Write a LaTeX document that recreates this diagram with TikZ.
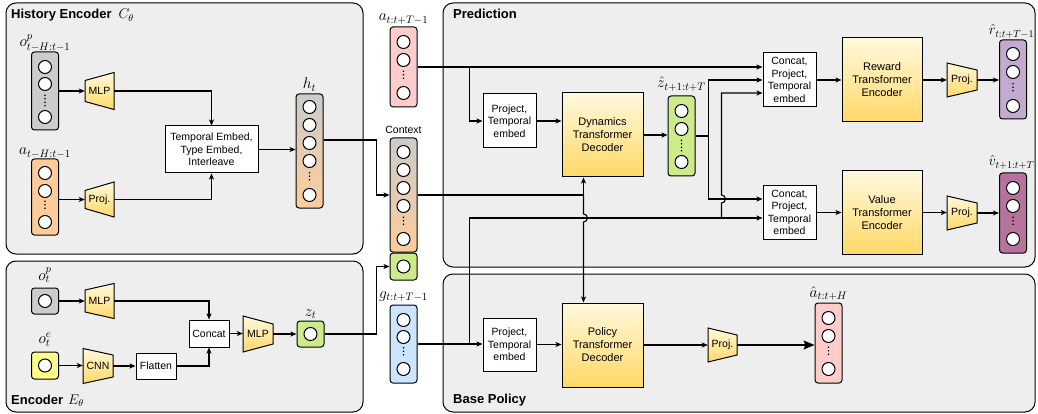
\RequirePackage{fix-cm}
\documentclass[tikz,border=0pt]{standalone}
\usepackage{fontspec}
\setsansfont{Liberation Sans}
\usetikzlibrary{arrows.meta,calc}

\definecolor{panelgray}{HTML}{EEEEEE}
\definecolor{colgray}{HTML}{CCCCCC}
\definecolor{colorange}{HTML}{FFCC99}
\definecolor{colpink}{HTML}{FFCCCC}
\definecolor{colblue}{HTML}{CCE5FF}
\definecolor{colgreen}{HTML}{CDEB8B}
\definecolor{colpurple}{HTML}{C3ABD0}
\definecolor{colmagenta}{HTML}{B5739D}
\definecolor{colyellow}{HTML}{FFFF88}
\definecolor{ylight}{HTML}{FFF8DD}
\definecolor{ydark}{HTML}{FFD966}

\newcommand{\bxfont}{\sffamily\fontsize{10.5}{12.5}\selectfont}
\newcommand{\tfmfont}{\sffamily\fontsize{11}{13}\selectfont}
\newcommand{\ttlfont}{\sffamily\bfseries\fontsize{13}{15}\selectfont}
\newcommand{\mlabfont}{\fontsize{15.5}{17}\selectfont}

\tikzset{
  panel/.style={draw=black, line width=1pt, fill=panelgray, rounded corners=10pt},
  colbox/.style={draw=black, line width=1pt, rounded corners=3pt, minimum width=27pt, inner sep=0pt},
  cell/.style={circle, draw=black, fill=white, line width=1pt, minimum size=13pt, inner sep=0pt},
  plainbox/.style={draw=black, fill=white, line width=1pt, font=\bxfont, align=center, inner sep=0pt},
  tfbox/.style={draw=black, line width=1pt, top color=ylight, bottom color=ydark, font=\tfmfont, align=center, inner sep=0pt},
  trapshape/.style={draw=black, line width=1pt, top color=ylight, bottom color=ydark},
  wire/.style={line width=1.1pt},
  arr/.style={wire, -{Stealth[length=6pt,width=5pt,inset=1.5pt]}},
  bigarr/.style={wire, -{Stealth[length=11pt,width=9pt,inset=2pt]}},
  dotline/.style={line width=1.7pt, line cap=round, dash pattern=on 0pt off 3.5pt},
  lab/.style={font=\mlabfont, anchor=base, inner sep=0pt},
  ttl/.style={font=\ttlfont, anchor=base west, inner sep=0pt},
}

% column of neurons: name, x centre, top, bottom, fill options
\newcommand{\vcolumn}[5]{\node[colbox,#5,minimum height={#4-#3}] (#1) at (#2,{(#3+#4)/2}) {};}
% neuron circles inside a column: column name, x centre, list of y positions
\newcommand{\cells}[3]{\foreach \yy [count=\k] in {#3} {\node[cell] (#1-c\k) at (#2,\yy) {};}}
% vertical ellipsis
\newcommand{\vdotsat}[2]{\draw[dotline] (#1,#2-5.25) -- (#1,#2+5.25);}
% trapezoid block: name, cx, cy, half width, half height left, half height right, text
\newcommand{\trapnode}[7]{%
  \path[trapshape] (#2-#4,#3-#5) -- (#2+#4,#3-#6) -- (#2+#4,#3+#6) -- (#2-#4,#3+#5) -- cycle;
  \node[font=\bxfont, inner sep=0pt, minimum width={2*#4}, minimum height=10pt] (#1) at (#2,#3) {#7};}

\begin{document}
\begin{tikzpicture}[x=1pt,y=-1pt]
\useasboundingbox (0,0) rectangle (1038,414);

% ---------- panels ----------
\draw[panel] (6,3) rectangle (363,254);
\draw[panel] (6,261) rectangle (363,412);
\draw[panel] (443,3) rectangle (1035,267);
\draw[panel] (443,274) rectangle (1035,412);

\node[ttl] (t-hist) at (11,19) {History Encoder\hspace{7pt}{\fontsize{14}{16}\selectfont$C_\theta$}};
\node[ttl] (t-enc) at (11,404) {Encoder\hspace{5pt}{\fontsize{14}{16}\selectfont$E_\theta$}};
\node[ttl] (t-pred) at (453,19) {Prediction};
\node[ttl] (t-pol) at (453,403) {Base Policy};

% ---------- history encoder ----------
\vcolumn{opH}{45}{52}{130}{fill=colgray}
\cells{opH}{45}{67,84,117}
\vdotsat{45}{100.5}
\node[lab] (l-opH) at (45,47) {$o^{p}_{t-H:t-1}$};

\vcolumn{aH}{45}{159}{235}{fill=colorange}
\cells{aH}{45}{173,191,222}
\vdotsat{45}{206.5}
\node[lab] (l-aH) at (45,155) {$a_{t-H:t-1}$};

\trapnode{mlpH}{99.5}{91}{14.5}{10.5}{18.5}{MLP}
\trapnode{projH}{99.5}{199.5}{14.5}{9}{17.5}{Proj.}

\node[plainbox, minimum width=93pt, minimum height=47pt] (temb) at (211.5,149.5)
  {Temporal Embed,\\Type Embed,\\Interleave};

\vcolumn{h}{309.5}{94}{208}{top color=colgray,bottom color=colorange}
\cells{h}{309.5}{107,125,143,161,195}
\vdotsat{309.5}{178}
\node[lab] (l-h) at (309.5,89) {$h_t$};

% ---------- encoder ----------
\vcolumn{opt}{45}{288}{314}{fill=colgray}
\cells{opt}{45}{301}
\node[lab] (l-opt) at (45,280) {$o^{p}_{t}$};

\vcolumn{oet}{45}{352}{379}{fill=colyellow}
\cells{oet}{45}{365.5}
\node[lab] (l-oet) at (45,343) {$o^{e}_{t}$};

\trapnode{mlpE}{99.5}{301}{14.5}{11}{17.5}{MLP}
\trapnode{cnn}{98}{366}{15}{17.5}{11}{CNN}
\node[plainbox, minimum width=40pt, minimum height=26pt] (flatten) at (156,366) {Flatten};
\node[plainbox, minimum width=40pt, minimum height=27pt] (concat) at (209,333.5) {Concat};
\trapnode{mlpZ}{258}{334}{15}{18}{10}{MLP}

\vcolumn{zt}{310.5}{321}{347}{fill=colgreen}
\cells{zt}{310.5}{334}
\node[lab] (l-zt) at (310.5,316) {$z_t$};

% ---------- shared inputs ----------
\vcolumn{aT}{403.5}{27}{107}{fill=colpink}
\cells{aT}{403.5}{42,60,93}
\vdotsat{403.5}{76.5}
\node[lab] (l-aT) at (403.5,21) {$a_{t:t+T-1}$};

\vcolumn{ctx}{403.5}{138}{252}{top color=colgray,bottom color=colorange}
\cells{ctx}{403.5}{152,170,188,206,239}
\vdotsat{403.5}{222.5}
\node[font=\bxfont, anchor=base, inner sep=0pt] (l-ctx) at (403.5,134) {Context};

\vcolumn{zc}{403.5}{253}{280}{fill=colgreen}
\cells{zc}{403.5}{266.5}

\vcolumn{g}{403.5}{305}{383}{fill=colblue}
\cells{g}{403.5}{320,337,369}
\vdotsat{403.5}{353}
\node[lab] (l-g) at (403.5,298) {$g_{t:t+T-1}$};

% ---------- prediction ----------
\node[plainbox, minimum width=53pt, minimum height=54pt] (projP) at (509.5,121) {Project,\\Temporal\\embed};
\node[tfbox, minimum width=81pt, minimum height=84pt] (dyn) at (602.5,135) {Dynamics\\Transformer\\Decoder};

\vcolumn{zh}{681.5}{96}{176}{fill=colgreen}
\cells{zh}{681.5}{111,129,162}
\vdotsat{681.5}{145.5}
\node[lab] (l-zh) at (681.5,88) {$\hat{z}_{t+1:t+T}$};

\node[plainbox, minimum width=53pt, minimum height=54pt] (concatR) at (789.5,80) {Concat,\\Project,\\Temporal\\embed};
\node[plainbox, minimum width=53pt, minimum height=53pt] (concatV) at (789.5,212.5) {Concat,\\Project,\\Temporal\\embed};
\node[tfbox, minimum width=80pt, minimum height=84pt] (rew) at (882,80) {Reward\\Transformer\\Encoder};
\node[tfbox, minimum width=80pt, minimum height=83pt] (val) at (882,212.5) {Value\\Transformer\\Encoder};
\trapnode{projR}{962}{80}{15}{17}{10}{Proj.}
\trapnode{projV}{962}{213}{15}{17}{10}{Proj.}

\vcolumn{rh}{1013}{40}{119}{fill=colpurple}
\cells{rh}{1013}{54,72,106}
\vdotsat{1013}{89}
\node[lab, font=\fontsize{14.5}{16}\selectfont] (l-rh) at (1011.5,35) {$\hat{r}_{t:t+T-1}$};

\vcolumn{vh}{1013}{173}{253}{fill=colmagenta}
\cells{vh}{1013}{188,206,239}
\vdotsat{1013}{222.5}
\node[lab, font=\fontsize{14.5}{16}\selectfont] (l-vh) at (1011.5,166) {$\hat{v}_{t+1:t+T}$};

% ---------- base policy ----------
\node[plainbox, minimum width=53pt, minimum height=53pt] (projB) at (509.5,344.5) {Project,\\Temporal\\embed};
\node[tfbox, minimum width=81pt, minimum height=84pt] (pol) at (602.5,345) {Policy\\Transformer\\Decoder};
\trapnode{projA}{722.5}{345}{14.5}{17}{10}{Proj.}

\vcolumn{ah}{828.5}{303}{383}{fill=colpink}
\cells{ah}{828.5}{318,336,369}
\vdotsat{828.5}{352.5}
\node[lab] (l-ah) at (828.5,297) {$\hat{a}_{t:t+H}$};

% ---------- connectors: history encoder ----------
\draw[arr] (opH.east |- mlpH.west) -- (mlpH.west);
\draw[arr] (mlpH.east) -| (temb.north);
\draw[arr] (aH.east |- projH.west) -- (projH.west);
\draw[arr] (projH.east) -| (temb.south);
\draw[arr] (temb.east) -- (temb.east -| h.west);
\coordinate (bh) at ($(ctx.west)+(-13,0)$);
\draw[arr] ([yshift=11pt]h.east) -| (bh) -- (ctx.west);

% ---------- connectors: encoder ----------
\draw[arr] (opt.east) -- (opt.east -| mlpE.west);
\draw[arr] (mlpE.east) -| (concat.north);
\draw[arr] (oet.east) -- (oet.east -| cnn.west);
\draw[arr] (cnn.east) -- (cnn.east -| flatten.west);
\draw[arr] (flatten.east) -| (concat.south);
\draw[arr] (concat.east) -- (concat.east -| mlpZ.west);
\draw[arr] (mlpZ.east) -- (mlpZ.east -| zt.west);
\coordinate (bz) at ($(zc.west)+(-13,0)$);
\draw[arr] (zt.east) -| (bz) -- (zc.west);

% ---------- connectors: prediction ----------
\coordinate (ja) at ($(projP.west)+(-13,0)$);
\draw[arr] (aT.east) -- ([yshift=13pt]concatR.west);
\draw[arr] (ja |- aT.east) -- (ja) -- (projP.west);
\draw[arr] (projP.east) -- (projP.east -| dyn.west);
\draw[arr] (dyn.east) -- (dyn.east -| zh.west);

\coordinate (jz) at ($(zh.east)+(13,0)$);
\draw[wire] (zh.east) -- (jz);
\draw[arr] (jz) |- (concatR.west);
\draw[arr] (jz) |- ([yshift=13.5pt]concatV.west);

% context feeds both decoders
\coordinate (jc) at ($(ctx.east)+(166,0)$);
\draw[wire] (ctx.east) -- (jc);
\draw[arr] (jc) -- (jc |- dyn.south);
\draw[arr] (jc) -- ($(jc)+(0,19)$) arc[start angle=90, end angle=-90, radius=4pt] -- (jc |- pol.north);

% goal branch
\draw[arr] (g.east) -- (g.east -| projB.west);
\coordinate (jg) at (ja |- g.east);
\draw[arr] (jg) |- ([yshift=-5.5pt]concatV.west);
\coordinate (jv) at ($(concatV.west)+(-41,5.5)$);
\draw[arr] (jv) -- ($(jv)+(0,-15)$) arc[start angle=-90, end angle=90, radius=4pt] |- ([yshift=-13pt]concatR.west);

\draw[arr] (concatR.east) -- (rew.west);
\draw[arr] (rew.east) -- (projR.west);
\draw[arr] (projR.east) -- (projR.east -| rh.west);
\draw[arr] (concatV.east) -- (concatV.east -| val.west);
\draw[arr] (val.east) -- (val.east -| projV.west);
\draw[arr] (projV.east) -- (projV.east -| vh.west);

% ---------- connectors: base policy ----------
\draw[arr] (projB.east) -- (projB.east -| pol.west);
\draw[arr] (pol.east) -- (pol.east -| projA.west);
\draw[bigarr] (projA.east) -- (projA.east -| ah.west);

\end{tikzpicture}
\end{document}
